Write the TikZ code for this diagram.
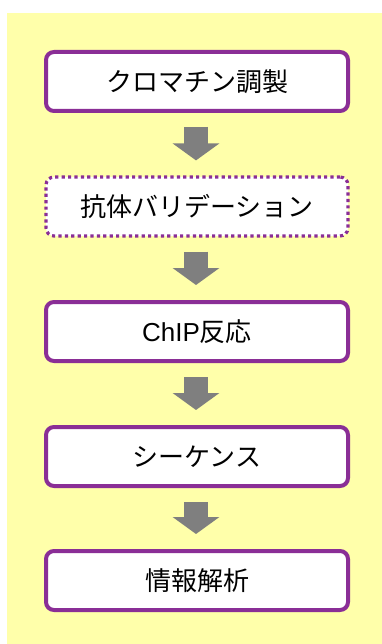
\documentclass[tikz,border=0pt]{standalone}
\usepackage{fontspec}
\usetikzlibrary{arrows.meta}
\newfontfamily\jp{Noto Sans CJK JP}
\newfontfamily\lat{Liberation Sans}
\definecolor{bgyellow}{HTML}{FFFFAA}
\definecolor{boxpurple}{HTML}{8A2E96}
\definecolor{arrowgray}{HTML}{7F7F7F}
\tikzset{
  stepbox/.style={draw=boxpurple, fill=white, line width=4pt, rounded corners=8pt,
    minimum width=302pt, minimum height=59pt, inner sep=0pt,
    font=\jp\fontsize{26pt}{30pt}\selectfont},
  dotbox/.style={stepbox, line width=3.2pt, dash pattern=on 3.2pt off 3.2pt},
  bigarrow/.style={draw=arrowgray, line width=24pt,
    -{Triangle[width=46pt,length=17pt]}, arrowgray}
}
\begin{document}
\begin{tikzpicture}[x=1pt,y=-1pt]
\useasboundingbox (0,0) rectangle (382,644);
\fill[bgyellow] (7,13) rectangle (382,644);
\node[stepbox] (a) at (197,81.5) {クロマチン調製};
\node[dotbox]  (b) at (197,206.5) {抗体バリデーション};
\node[stepbox] (c) at (197,331.5) {{\lat ChIP}反応};
\node[stepbox] (d) at (197,456.5) {シーケンス};
\node[stepbox] (e) at (197,580.5) {情報解析};
\foreach \p/\q in {a/b,b/c,c/d,d/e}
  \draw[bigarrow] ([xshift=-1pt,yshift=-14pt]\p.south) -- ([xshift=-1pt,yshift=15pt]\q.north);
\end{tikzpicture}
\end{document}
